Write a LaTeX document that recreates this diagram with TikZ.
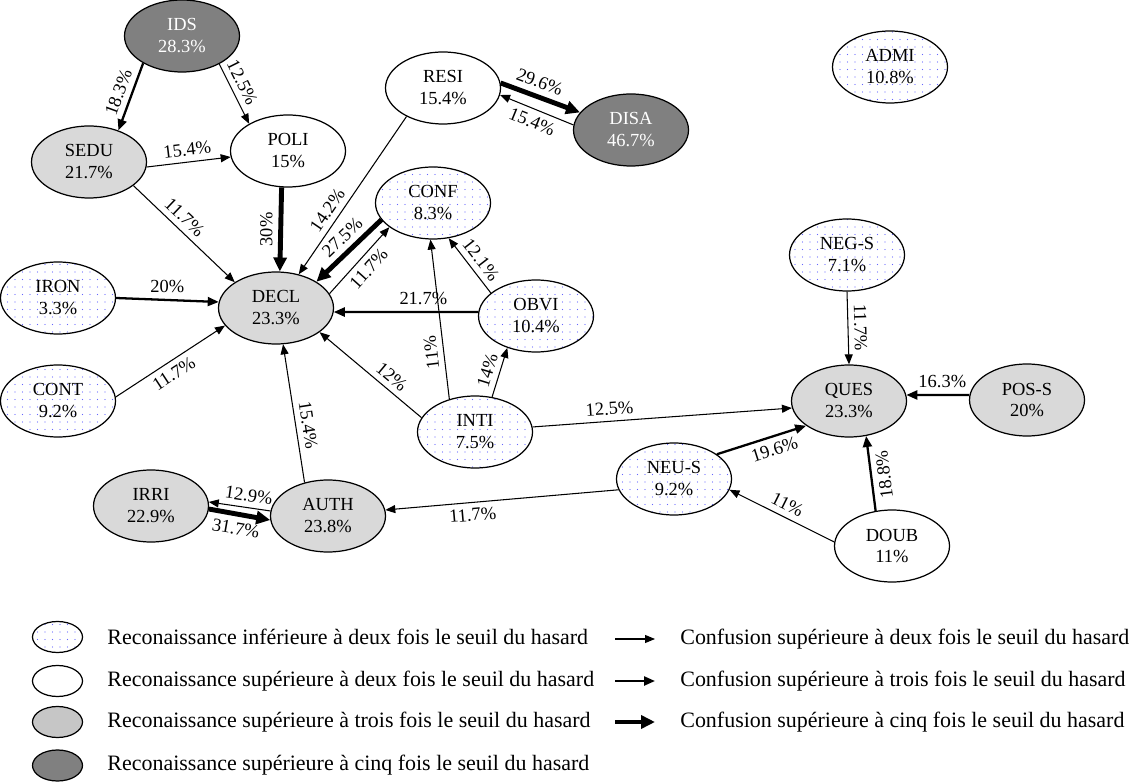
\documentclass[tikz,border=0pt]{standalone}
\usepackage{fontspec}
\setmainfont{Liberation Serif}
\usepackage{tikz}
\usetikzlibrary{arrows.meta,positioning,shapes.geometric,patterns.meta}
\tikzset{
  att/.style={ellipse, draw, line width=0.7pt, align=center, inner sep=1pt, minimum width=2.30cm, minimum height=1.44cm, font=\fontsize{10.5}{12.5}\selectfont},
  pct/.style={font=\fontsize{10.5}{12}\selectfont, inner sep=3.2pt},
  legtext/.style={font=\fontsize{12.5}{14}\selectfont, inner sep=0pt},
  legsize/.style={minimum width=1.0cm, minimum height=0.62cm}
}

\begin{document}
\begin{tikzpicture}[
    recl/.style={att, pattern={Dots[distance=1.5mm, radius=0.35pt]}, pattern color=blue!60},
    rec2/.style={att, fill=white},
    rec3/.style={att, fill=gray!30},
    rec5/.style={att, fill=gray, text=white},
    conf2/.style={-{Triangle[length=2mm, width=1.6mm]}, line width=0.6pt},
    conf3/.style={-{Triangle[length=2.2mm, width=1.8mm]}, line width=1.3pt},
    conf5/.style={-{Triangle[length=2.8mm, width=2.6mm]}, line width=2.8pt}
  ]
    \path[use as bounding box] (0,0) rectangle (22.64,15.64);
    \node[rec5] (ids) at (3.64,14.92) {IDS\\28.3\%};
    \node[rec3] (sedu) at (1.78,12.40) {SEDU\\21.7\%};
    \node[rec2] (poli) at (5.76,12.62) {POLI\\15\%};
    \node[rec2] (resi) at (8.86,13.88) {RESI\\15.4\%};
    \node[rec5] (disa) at (12.62,13.04) {DISA\\46.7\%};
    \node[recl] (admi) at (17.80,14.30) {ADMI\\10.8\%};
    \node[recl] (conf) at (8.66,11.58) {CONF\\8.3\%};
    \node[recl] (negs) at (16.94,10.54) {NEG-S\\7.1\%};
    \node[recl] (iron) at (1.16,9.68) {IRON\\3.3\%};
    \node[rec3] (decl) at (5.52,9.48) {DECL\\23.3\%};
    \node[recl] (obvi) at (10.72,9.32) {OBVI\\10.4\%};
    \node[recl] (cont) at (1.16,7.62) {CONT\\9.2\%};
    \node[rec3] (ques) at (16.98,7.62) {QUES\\23.3\%};
    \node[rec3] (poss) at (20.54,7.64) {POS-S\\20\%};
    \node[recl] (inti) at (9.50,7.00) {INTI\\7.5\%};
    \node[recl] (neus) at (13.48,6.06) {NEU-S\\9.2\%};
    \node[rec3] (irri) at (3.02,5.52) {IRRI\\22.9\%};
    \node[rec3] (auth) at (6.56,5.32) {AUTH\\23.8\%};
    \node[rec2] (doub) at (17.84,4.72) {DOUB\\11\%};

    \draw[conf3] (ids.215) -- node[pct, sloped, above] {18.3\%} (sedu.47);
    \draw[conf2] (ids.323) -- node[pct, pos=.4, sloped, above] {12.5\%} (poli.145);
    \draw[conf2] (sedu.355) -- node[pct, sloped, above] {15.4\%} (poli.186);
    \draw[conf2] (sedu.332) -- node[pct, pos=.42, sloped, above] {11.7\%} (decl.148);
    \draw[conf5] (poli.260) -- node[pct, rotate=90, above] {30\%} (decl.84);
    \draw[conf2] (resi.218) -- node[pct, pos=.64, sloped, above] {14.2\%} (decl.56);
    \draw[conf5] (conf.198) -- node[pct, pos=.45, sloped, above] {27.5\%} (decl.33);
    \draw[conf2] (decl.15) -- node[pct, sloped, below] {11.7\%} (conf.209);
    \draw[conf5] (resi.5) -- node[pct, pos=.43, sloped, above] {29.6\%} (disa.161);
    \draw[conf2] (disa.175) -- node[pct, sloped, below] {15.4\%} (resi.353);
    \draw[conf3] (iron.0) -- node[pct, above] {20\%} (decl.174);
    \draw[conf2] (cont.4) -- node[pct, pos=.47, sloped, below] {11.7\%} (decl.199);
    \draw[conf3] (obvi.176) -- node[pct, pos=.38, above] {21.7\%} (decl.356);
    \draw[conf2] (obvi.153) -- node[pct, pos=.47, sloped, above] {12.1\%} (conf.294);
    \draw[conf2] (inti.128) -- node[pct, pos=.3, sloped, allow upside down, above] {11\%} (conf.266);
    \draw[conf2] (inti.64) -- node[pct, pos=.47, sloped, above] {14\%} (obvi.228);
    \draw[conf2] (inti.165) -- node[pct, pos=.37, sloped, above] {12\%} (decl.331);
    \draw[conf2] (inti.5) -- node[pct, pos=.3, sloped, above] {12.5\%} (ques.187);
    \draw[conf2] (auth.125) -- node[pct, pos=.4, sloped, above] {15.4\%} (decl.281);
    \draw[conf2] (auth.175) -- node[pct, pos=.38, sloped, above] {12.9\%} (irri.4);
    \draw[conf5] (irri.357) -- node[pct, pos=.48, sloped, below] {31.7\%} (auth.184);
    \draw[conf2] (neus.191) -- node[pct, pos=.63, sloped, below] {11.7\%} (auth.6);
    \draw[conf3] (neus.30) -- node[pct, pos=.6, sloped, below] {19.6\%} (ques.210);
    \draw[conf2] (doub.176) -- node[pct, sloped, above] {11\%} (neus.349);
    \draw[conf3] (doub.115) -- node[pct, pos=.46, sloped, allow upside down, below] {18.8\%} (ques.296);
    \draw[conf2] (negs.south) -- node[pct, sloped, allow upside down, above] {11.7\%} (ques.north);
    \draw[conf3] (poss.175) -- node[pct, pos=.43, above] {16.3\%} (ques.6);

    \node[recl, legsize] (k1) at (1.15,2.90) {};
    \node[rec2, legsize] (k2) at (1.15,2.02) {};
    \node[rec3, legsize, fill=gray!45] (k3) at (1.15,1.20) {};
    \node[rec5, legsize] (k4) at (1.15,0.33) {};
    \node[legtext, right=.48cm of k1] (t1) {Reconaissance inférieure à deux fois le seuil du hasard};
    \node[legtext, right=.48cm of k2] (t2) {Reconaissance supérieure à deux fois le seuil du hasard};
    \node[legtext, right=.48cm of k3] (t3) {Reconaissance supérieure à trois fois le seuil du hasard};
    \node[legtext, right=.48cm of k4] (t4) {Reconaissance supérieure à cinq fois le seuil du hasard};

    \coordinate (a1) at (12.30,2.86);
    \coordinate (b1) at (13.10,2.86);
    \coordinate (a2) at (12.30,2.02);
    \coordinate (b2) at (13.10,2.02);
    \coordinate (a3) at (12.30,1.20);
    \coordinate (b3) at (13.10,1.20);
    \draw[conf2] (a1) -- (b1);
    \draw[conf3] (a2) -- (b2);
    \draw[conf5] (a3) -- (b3);
    \node[legtext, right=.5cm of b1] (u1) {Confusion supérieure à deux fois le seuil du hasard};
    \node[legtext, right=.5cm of b2] (u2) {Confusion supérieure à trois fois le seuil du hasard};
    \node[legtext, right=.5cm of b3] (u3) {Confusion supérieure à cinq fois le seuil du hasard};
  \end{tikzpicture}
\end{document}
